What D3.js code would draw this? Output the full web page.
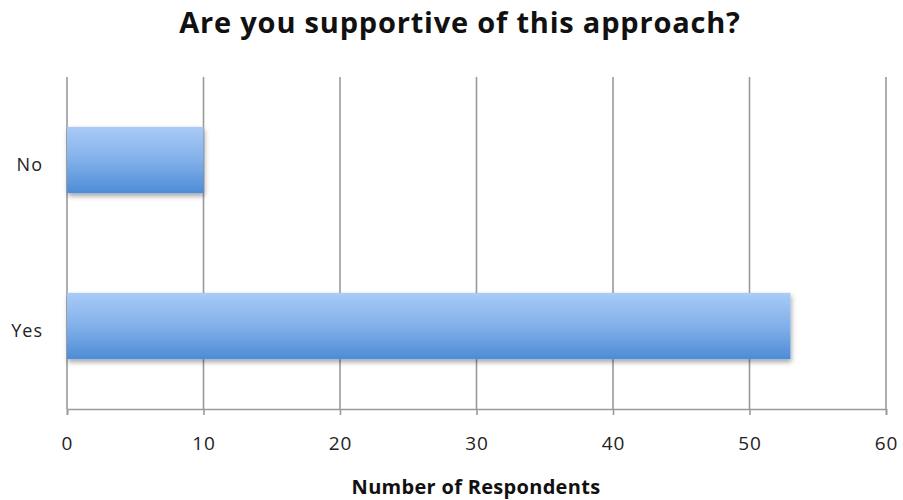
<!DOCTYPE html>
<html>
<head>
<meta charset="utf-8">
<script src="https://cdn.jsdelivr.net/npm/d3@7"></script>
<style>
  body { margin: 0; background: #fff; }
  svg { display: block; }
  text { font-family: "Open Sans", "DejaVu Sans", sans-serif; }
</style>
</head>
<body>
<script>
const categories = ["No", "Yes"];
const respondents = [10, 53];
const xTicks = [0, 10, 20, 30, 40, 50, 60];
const chartTitle = "Are you supportive of this approach?";
const xTitle = "Number of Respondents";

const W = 903, H = 500;
const m = { left: 67, right: 17, top: 77, bottom: 91 };

const svg = d3.select("body").append("svg").attr("width", W).attr("height", H);

const defs = svg.append("defs");
const grad = defs.append("linearGradient").attr("id", "barFill")
  .attr("x1", 0).attr("y1", 0).attr("x2", 0).attr("y2", 1);
grad.append("stop").attr("offset", "0%").attr("stop-color", "#a9cbf7");
grad.append("stop").attr("offset", "50%").attr("stop-color", "#82b0ea");
grad.append("stop").attr("offset", "100%").attr("stop-color", "#4d8cd6");

const shadow = defs.append("filter").attr("id", "barShadow")
  .attr("x", "-5%").attr("y", "-20%").attr("width", "110%").attr("height", "150%");
shadow.append("feDropShadow").attr("dx", 1).attr("dy", 3).attr("stdDeviation", 2.5)
  .attr("flood-color", "#000").attr("flood-opacity", 0.35);

const x = d3.scaleLinear().domain([0, 60]).range([m.left, W - m.right]);
const y = d3.scaleBand().domain(categories).range([m.top, H - m.bottom])
  .paddingInner(0.6).paddingOuter(0.3);

// vertical gridlines
svg.append("g").selectAll("line").data(xTicks).join("line")
  .attr("x1", d => x(d)).attr("x2", d => x(d))
  .attr("y1", m.top).attr("y2", H - m.bottom)
  .attr("stroke", "#9a9a9a").attr("stroke-width", 1.6);

// bars
svg.append("g").selectAll("rect").data(categories).join("rect")
  .attr("x", x(0))
  .attr("y", d => y(d))
  .attr("width", (d, i) => x(respondents[i]) - x(0))
  .attr("height", y.bandwidth())
  .attr("fill", "url(#barFill)")
  .attr("filter", "url(#barShadow)");

// x axis
const xAxis = svg.append("g").attr("transform", `translate(0,${H - m.bottom})`)
  .call(d3.axisBottom(x).tickValues(xTicks).tickSize(6).tickPadding(22));
xAxis.select(".domain").attr("stroke", "#9a9a9a").attr("stroke-width", 1.6);
xAxis.selectAll(".tick line").attr("stroke", "#9a9a9a").attr("stroke-width", 1.6);
xAxis.selectAll(".tick text").attr("font-size", 19).attr("fill", "#222")
  .attr("letter-spacing", 1)
  .style("font-family", "'Open Sans', sans-serif");

// y category labels
svg.append("g").selectAll("text").data(categories).join("text")
  .attr("x", 43).attr("y", d => y(d) + y.bandwidth() / 2 + 5)
  .attr("dy", "0.35em").attr("text-anchor", "end")
  .attr("font-size", 18).attr("letter-spacing", 1)
  .attr("fill", "#222").text(d => d);

// titles
svg.append("text").attr("x", 460).attr("y", 33).attr("text-anchor", "middle")
  .attr("font-size", 29).attr("font-weight", "bold").attr("letter-spacing", 0.8)
  .attr("fill", "#111").text(chartTitle);
svg.append("text").attr("x", 476).attr("y", 494).attr("text-anchor", "middle")
  .attr("font-size", 20).attr("font-weight", "bold").attr("letter-spacing", 0.3)
  .attr("fill", "#111").text(xTitle);
</script>
</body>
</html>
